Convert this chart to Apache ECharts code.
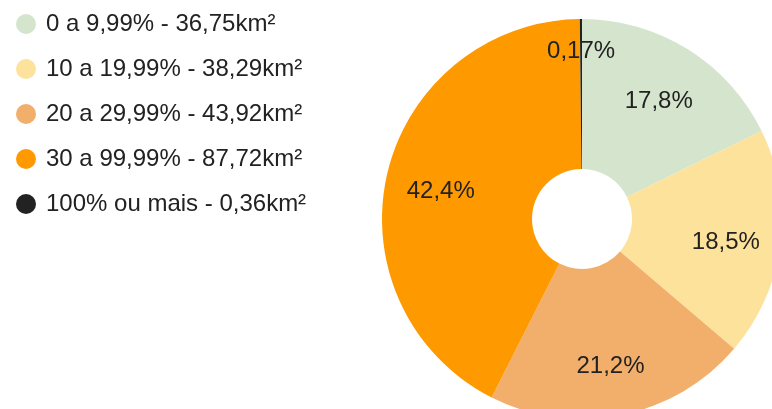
<!DOCTYPE html>
<html>
<head>
<meta charset="utf-8">
<script src="https://cdn.jsdelivr.net/npm/echarts@6/dist/echarts.min.js"></script>
<style>
html,body{margin:0;padding:0;background:#fff;}
#c{width:772px;height:409px;}
</style>
</head>
<body>
<div id="c"></div>
<script>
var categories = ['0 a 9,99% - 36,75km²', '10 a 19,99% - 38,29km²', '20 a 29,99% - 43,92km²', '30 a 99,99% - 87,72km²', '100% ou mais - 0,36km²'];
var areas = [36.75, 38.29, 43.92, 87.72, 0.36];
var colors = ['#d5e5cd', '#fde29b', '#f2ae6b', '#fe9900', '#222222'];

function fmtPct(p) {
  var s = p >= 1 ? p.toFixed(1) : p.toFixed(2);
  return s.replace('.', ',') + '%';
}

var pieData = categories.map(function (c, i) {
  return { name: c, value: areas[i], itemStyle: { color: colors[i] } };
});
var labelData = categories.map(function (c, i) {
  return { name: c, value: areas[i], itemStyle: { color: 'rgba(0,0,0,0)' } };
});

var labelStyle = {
  show: true,
  position: 'inside',
  fontFamily: 'Liberation Sans, Arial, sans-serif',
  fontSize: 24,
  color: '#222222',
  offset: [0, 5]
};

var chart = echarts.init(document.getElementById('c'), null, { renderer: 'canvas' });
chart.setOption({
  animation: false,
  backgroundColor: '#ffffff',
  color: colors,
  legend: {
    orient: 'vertical',
    left: 11,
    top: 7,
    icon: 'circle',
    itemWidth: 20,
    itemHeight: 20,
    itemGap: 21,
    selectedMode: false,
    data: categories,
    textStyle: {
      fontFamily: 'Liberation Sans, Arial, sans-serif',
      fontSize: 24,
      lineHeight: 24,
      color: '#222222',
      padding: [0, 0, 0, 5]
    }
  },
  series: [
    {
      type: 'pie',
      center: [582, 219],
      radius: [50, 200],
      startAngle: 90,
      clockwise: true,
      avoidLabelOverlap: false,
      silent: true,
      emphasis: { disabled: true, scale: false },
      itemStyle: { borderWidth: 0 },
      label: { show: false },
      labelLine: { show: false },
      data: pieData
    },
    {
      type: 'pie',
      center: [582, 219],
      radius: [84, 200],
      startAngle: 90,
      clockwise: true,
      avoidLabelOverlap: false,
      silent: true,
      emphasis: { disabled: true, scale: false },
      legendHoverLink: false,
      label: Object.assign({}, labelStyle, {
        formatter: function (p) {
          return p.percent >= 1 ? fmtPct(p.percent) : '';
        }
      }),
      labelLine: { show: false },
      data: labelData
    },
    {
      type: 'pie',
      center: [582, 219],
      radius: [140, 200],
      startAngle: 90,
      clockwise: true,
      avoidLabelOverlap: false,
      silent: true,
      emphasis: { disabled: true, scale: false },
      legendHoverLink: false,
      label: Object.assign({}, labelStyle, {
        formatter: function (p) {
          return p.percent < 1 ? fmtPct(p.percent) : '';
        }
      }),
      labelLine: { show: false },
      data: labelData
    }
  ]
});
</script>
</body>
</html>
